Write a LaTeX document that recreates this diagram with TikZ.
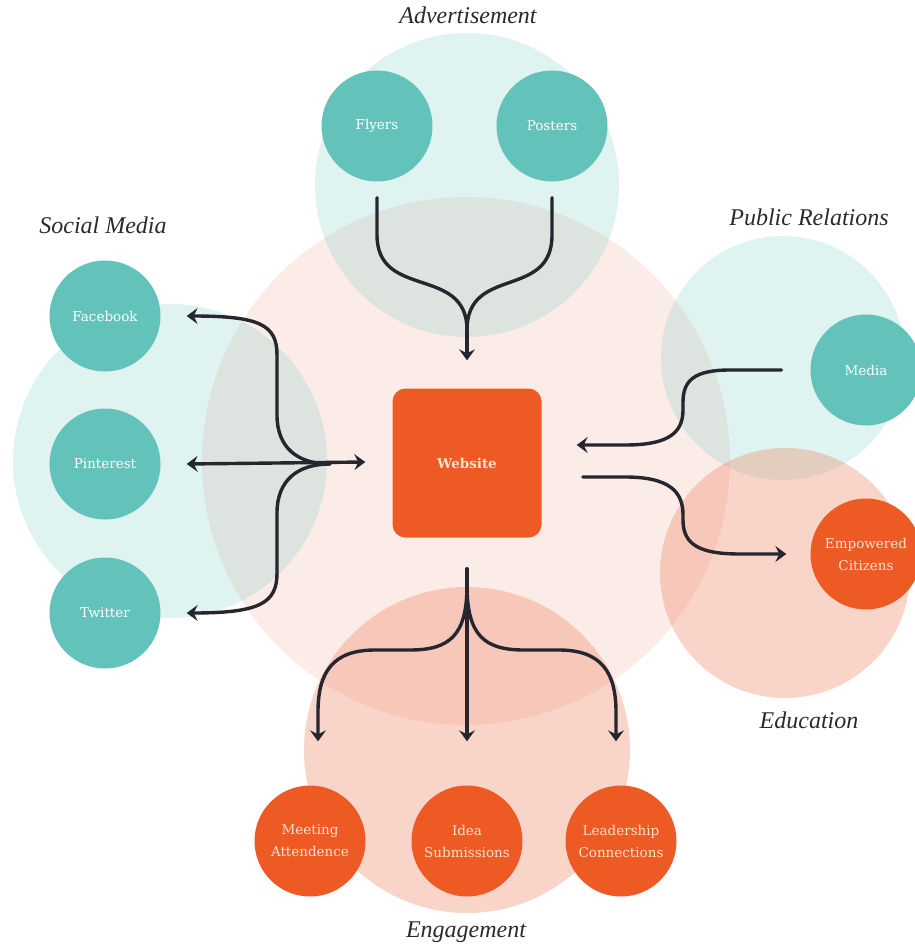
\documentclass[tikz,border=0pt]{standalone}
\usepackage{fontspec}
\setmainfont{Liberation Serif}
\newfontfamily\nodefont{DejaVu Serif}
\usetikzlibrary{arrows.meta}
\definecolor{tealnode}{HTML}{63C3BA}
\definecolor{orbase}{HTML}{EE7E58}
\definecolor{ornode}{HTML}{EE5A24}
\definecolor{arrc}{HTML}{26262E}
\definecolor{creamtxt}{HTML}{FBE3CF}
\definecolor{labc}{HTML}{2B2B2B}
\tikzset{
  zoneteal/.style={fill=tealnode, fill opacity=0.2},
  zonepale/.style={fill=orbase, fill opacity=0.14},
  zoneor/.style={fill=orbase, fill opacity=0.32},
  tnode/.style={circle, fill=tealnode, minimum size=111pt, inner sep=0pt, text=white,
    font=\nodefont\fontsize{13.5}{17}\selectfont, align=center},
  onode/.style={circle, fill=ornode, minimum size=111pt, inner sep=0pt, text=creamtxt,
    font=\nodefont\fontsize{13.5}{22}\selectfont, align=center},
  webbox/.style={rectangle, rounded corners=13pt, fill=ornode, minimum size=149pt, inner sep=0pt,
    text=creamtxt, font=\nodefont\bfseries\fontsize{13.5}{16}\selectfont},
  lab/.style={font=\itshape\fontsize{24}{28}\selectfont, text=labc, anchor=base, inner sep=0pt},
  conn/.style={draw=arrc, line width=3.4pt, line cap=round, line join=round},
  tip/.style={-{Stealth[length=11pt,width=16pt,inset=4pt]}},
  tiptwo/.style={{Stealth[length=11pt,width=16pt,inset=4pt]}-{Stealth[length=11pt,width=16pt,inset=4pt]}}
}
\begin{document}
\begin{tikzpicture}[x=1pt,y=-1pt]
\useasboundingbox (0,0) rectangle (914,944);
\fill[white] (0,0) rectangle (914,944);
% zones
\fill[zonepale] (466,461) circle[radius=264];
\fill[zoneteal] (467,185) circle[radius=152];
\fill[zoneteal] (170,461) circle[radius=157];
\fill[zoneteal] (783,358) circle[radius=122];
\fill[zoneor] (785,573) circle[radius=125];
\fill[zoneor] (467,750) circle[radius=163];
% nodes
\node[webbox] (web) at (467,463) {Website};
\node[tnode] (fly) at (377,126) {Flyers};
\node[tnode] (pos) at (552,126) {Posters};
\node[tnode] (fb) at (105,316) {Facebook};
\node[tnode] (pin) at (105,464) {Pinterest};
\node[tnode] (tw) at (105,613) {Twitter};
\node[tnode] (med) at (866,370) {Media};
\node[onode] (emp) at (866,554) {Empowered\\Citizens};
\node[onode] (meet) at (310,841) {Meeting\\Attendence};
\node[onode] (idea) at (467,841) {Idea\\Submissions};
\node[onode] (lead) at (621,841) {Leadership\\Connections};
% labels
\node[lab] (ladv) at (468,24) {Advertisement};
\node[lab] (lsm) at (103,233) {Social Media};
\node[lab] (lpr) at (809,225) {Public Relations};
\node[lab] (led) at (809,728) {Education};
\node[lab] (leng) at (466,937) {Engagement};
% hubs
\coordinate (advhub) at (467,330);
\coordinate (smhub) at (330,464);
\coordinate (enghub) at (467,585);
% advertisement
\draw[conn] ([yshift=-16pt]fly.south) -- (377,235) .. controls (377,300) and (467,265) .. (advhub);
\draw[conn] ([yshift=-16pt]pos.south) -- (552,235) .. controls (552,300) and (467,265) .. (advhub);
\draw[conn,tip] (advhub) -- ([yshift=28pt]web.north);
% social media
\draw[conn,tiptwo] ([xshift=26pt]pin.east) -- ([xshift=-27pt,yshift=1pt]web.west);
\draw[conn,tip] (smhub) .. controls (298,464) and (277,448) .. (277,415) -- (277,355)
  .. controls (277,325) and (260,316) .. ([xshift=26pt]fb.east);
\draw[conn,tip] (smhub) .. controls (298,464) and (277,480) .. (277,513) -- (277,573)
  .. controls (277,603) and (260,613) .. ([xshift=26pt]tw.east);
% public relations
\draw[conn,tip] ([xshift=-29pt]med.west) -- (730,370) .. controls (695,370) and (683,380) .. (683,402)
  -- (683,410) .. controls (683,435) and (665,445) .. (625,445) -- ([xshift=35pt,yshift=18pt]web.east);
% education
\draw[conn,tip] ([xshift=41pt,yshift=-14pt]web.east) -- (625,477) .. controls (670,477) and (683,492) .. (683,515)
  -- (683,520) .. controls (683,545) and (700,554) .. (740,554) -- ([xshift=-24pt]emp.west);
% engagement
\draw[conn,tip] ([yshift=-31pt]web.south) -- ([yshift=44pt]idea.north);
\draw[conn,tip] (enghub) .. controls (467,635) and (450,650) .. (410,650) -- (375,650)
  .. controls (333,650) and (318,672) .. (318,712) -- ([xshift=8pt,yshift=44pt]meet.north);
\draw[conn,tip] (enghub) .. controls (467,635) and (484,650) .. (524,650) -- (559,650)
  .. controls (601,650) and (616,672) .. (616,712) -- ([xshift=-5pt,yshift=44pt]lead.north);
\end{tikzpicture}
\end{document}
